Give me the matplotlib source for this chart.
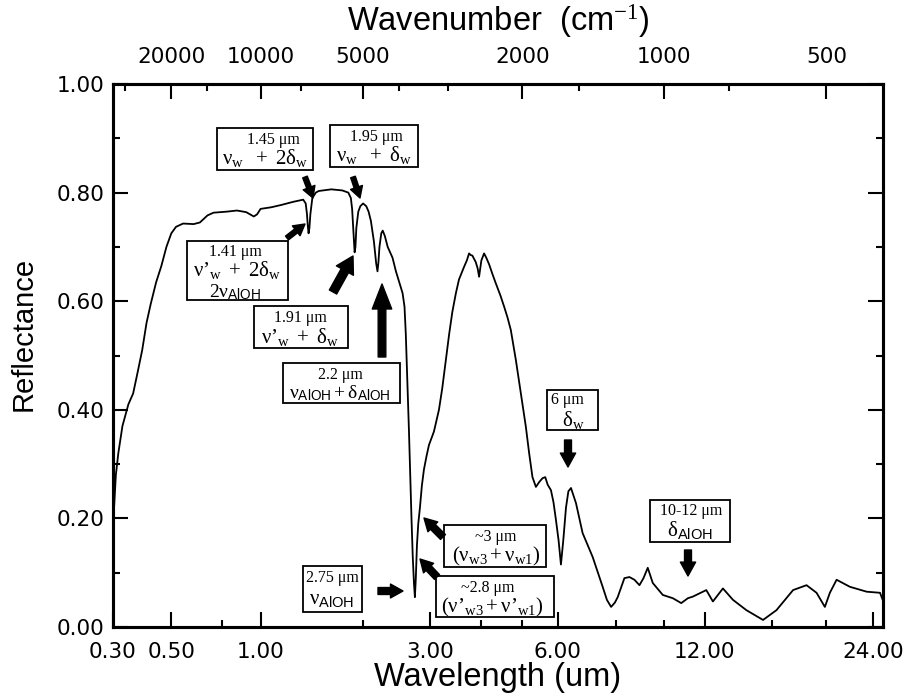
import numpy as np
import matplotlib
matplotlib.use('Agg')
import matplotlib.pyplot as plt
from matplotlib.patches import Rectangle

# ---------------- data ----------------
wavelength = [0.300, 0.303, 0.308, 0.315, 0.327, 0.345, 0.360, 0.375, 0.390, 0.405,
              0.420, 0.440, 0.460, 0.480, 0.500, 0.520, 0.551, 0.600, 0.631, 0.670,
              0.702, 0.780, 0.840, 0.900, 0.952, 0.975, 1.000, 1.080, 1.155, 1.260,
              1.350, 1.373, 1.385, 1.392, 1.400, 1.408, 1.417, 1.436, 1.470, 1.500,
              1.630, 1.750, 1.820, 1.850, 1.865, 1.880, 1.895, 1.905, 1.916, 1.940,
              1.965, 2.000, 2.040, 2.070, 2.100, 2.140, 2.170, 2.188, 2.200, 2.215,
              2.240, 2.260, 2.290, 2.330, 2.400, 2.450, 2.500, 2.550, 2.580, 2.600,
              2.620, 2.650, 2.670, 2.690, 2.710, 2.730, 2.745, 2.760, 2.778, 2.800,
              2.828, 2.860, 2.895, 2.940, 2.981, 3.069, 3.159, 3.220, 3.284, 3.350,
              3.410, 3.480, 3.541, 3.642, 3.700, 3.746, 3.780, 3.816, 3.888, 3.930,
              3.960, 3.985, 4.010, 4.070, 4.120, 4.183, 4.260, 4.338, 4.450, 4.537,
              4.620, 4.702, 4.829, 4.958, 5.090, 5.179, 5.269, 5.364, 5.457, 5.550,
              5.628, 5.700, 5.795, 5.870, 5.945, 6.024, 6.097, 6.170, 6.254, 6.330,
              6.413, 6.575, 6.794, 7.138, 7.495, 7.650, 7.806, 7.950, 8.057, 8.319,
              8.519, 8.722, 8.930, 9.100, 9.282, 9.501, 9.949, 10.414, 10.818, 11.144,
              11.397, 11.571, 12.095, 12.451, 13.007, 13.584, 14.387, 15.435, 16.324, 17.481,
              18.464, 19.225, 19.875, 20.275, 20.822, 21.943, 23.417, 24.648, 24.900]
reflectance = [0.170, 0.220, 0.280, 0.320, 0.370, 0.410, 0.430, 0.470, 0.510, 0.560,
               0.595, 0.635, 0.665, 0.700, 0.725, 0.737, 0.743, 0.742, 0.745, 0.758,
               0.763, 0.765, 0.767, 0.764, 0.756, 0.760, 0.770, 0.773, 0.777, 0.783,
               0.787, 0.780, 0.760, 0.740, 0.725, 0.735, 0.760, 0.790, 0.800, 0.803,
               0.806, 0.804, 0.800, 0.790, 0.770, 0.730, 0.690, 0.700, 0.735, 0.765,
               0.775, 0.780, 0.775, 0.765, 0.748, 0.710, 0.670, 0.655, 0.670, 0.700,
               0.725, 0.730, 0.720, 0.700, 0.680, 0.655, 0.635, 0.615, 0.590, 0.540,
               0.470, 0.360, 0.280, 0.200, 0.130, 0.080, 0.055, 0.090, 0.150, 0.190,
               0.220, 0.260, 0.290, 0.315, 0.335, 0.360, 0.400, 0.440, 0.490, 0.540,
               0.580, 0.615, 0.640, 0.663, 0.675, 0.688, 0.685, 0.684, 0.672, 0.660,
               0.645, 0.660, 0.675, 0.688, 0.680, 0.668, 0.650, 0.633, 0.610, 0.590,
               0.570, 0.547, 0.492, 0.430, 0.369, 0.320, 0.276, 0.258, 0.267, 0.274,
               0.276, 0.262, 0.252, 0.230, 0.197, 0.160, 0.115, 0.160, 0.220, 0.250,
               0.256, 0.228, 0.173, 0.129, 0.074, 0.050, 0.037, 0.045, 0.055, 0.090,
               0.092, 0.087, 0.077, 0.090, 0.109, 0.081, 0.059, 0.053, 0.044, 0.053,
               0.056, 0.059, 0.068, 0.047, 0.071, 0.050, 0.031, 0.013, 0.031, 0.068,
               0.077, 0.063, 0.037, 0.063, 0.087, 0.074, 0.065, 0.063, 0.050]

x_major = [0.3, 0.5, 1.0, 3.0, 6.0, 12.0, 24.0]
x_major_labels = ['0.30', '0.50', '1.00', '3.00', '6.00', '12.00', '24.00']
x_minor = [0.75, 2.0, 4.0, 5.0, 8.0, 10.0, 16.0, 20.0]
wn_major = [20000, 10000, 5000, 2000, 1000, 500]
wn_minor = [30000, 15000, 7500, 4000, 3000, 1500, 750]
y_major = [0.0, 0.2, 0.4, 0.6, 0.8, 1.0]
y_minor = [0.1, 0.3, 0.5, 0.7, 0.9]

# ---------------- style ----------------
plt.rcParams['mathtext.fontset'] = 'custom'
plt.rcParams['mathtext.rm'] = 'Liberation Serif'
plt.rcParams['mathtext.it'] = 'Liberation Serif:italic'
plt.rcParams['mathtext.sf'] = 'Liberation Sans'
TICKF = ['DejaVu Sans']
SANS = ['Liberation Sans', 'DejaVu Sans']
SERIF = ['Liberation Serif', 'DejaVu Serif']

fig = plt.figure(figsize=(9.08, 6.99), dpi=100)
W, H = 908.0, 699.0
L, R, T, B = 113.0, 883.0, 84.0, 627.0
ax = fig.add_axes([L / W, (H - B) / H, (R - L) / W, (B - T) / H])

fwd = lambda x: np.power(np.clip(x, 1e-9, None), 0.2)
inv = lambda y: np.power(np.clip(y, 0, None), 5.0)
ax.set_xscale('function', functions=(fwd, inv))
ax.plot(wavelength, reflectance, color='black', lw=1.3, zorder=2)
ax.set_xlim(0.3, 24.93)
ax.set_ylim(0, 1)

ax.set_xticks(x_major)
ax.set_xticklabels(x_major_labels)
ax.set_xticks(x_minor, minor=True)
ax.set_xticklabels([], minor=True)
ax.set_yticks(y_major)
ax.set_yticklabels(['%.2f' % v for v in y_major])
ax.set_yticks(y_minor, minor=True)

for sp in ax.spines.values():
    sp.set_linewidth(2.2)

MAJ, MIN, TW = 10.8, 5.2, 1.5
ax.tick_params(axis='both', which='both', direction='in', width=TW, colors='black')
ax.tick_params(axis='x', which='major', length=MAJ, pad=10.5, top=False, labelsize=15.5)
ax.tick_params(axis='x', which='minor', length=MIN, top=False)
ax.tick_params(axis='y', which='major', length=MAJ, pad=6, left=True, right=True, labelsize=15.5)
ax.tick_params(axis='y', which='minor', length=MIN, left=True, right=True)
for lab in ax.get_xticklabels() + ax.get_yticklabels():
    lab.set_family(TICKF)

ax2 = ax.twiny()
ax2.set_xscale('function', functions=(fwd, inv))
ax2.set_xlim(ax.get_xlim())
ax2.set_xticks([1e4 / w for w in wn_major])
ax2.set_xticklabels([str(w) for w in wn_major])
ax2.set_xticks([1e4 / w for w in wn_minor], minor=True)
ax2.set_xticklabels([], minor=True)
ax2.tick_params(axis='x', which='both', direction='in', width=TW, bottom=False)
ax2.tick_params(axis='x', which='major', length=MAJ, pad=12, labelsize=15.5)
ax2.tick_params(axis='x', which='minor', length=MIN)
for lab in ax2.get_xticklabels():
    lab.set_family(TICKF)
for sp in ax2.spines.values():
    sp.set_linewidth(2.2)

ax.set_xlabel('Wavelength (um)', family=SANS, fontsize=23.5, labelpad=0)
ax2.set_xlabel('Wavenumber  (cm$^{-1}$)', family=SANS, fontsize=23.5, labelpad=12)
ax.set_ylabel('Reflectance', family=SANS, fontsize=21)
ax.yaxis.set_label_coords(-0.098, 0.54)

# ---------------- annotations (positions in axes fraction from reference pixels) ----------------
def fx(x):
    return (x - L) / (R - L)

def fy(y):
    return (B - y) / (B - T)

def box(x0, y0, x1, y1):
    ax.add_patch(Rectangle((fx(x0), fy(y1)), fx(x1) - fx(x0), fy(y0) - fy(y1),
                           transform=ax.transAxes, facecolor='white', edgecolor='black',
                           lw=1.3, zorder=4, clip_on=False))

def line(x, y, s, size, ha='center'):
    ax.text(fx(x), fy(y), s, transform=ax.transAxes, ha=ha, va='baseline',
            fontsize=size, family=SERIF, zorder=5)

def arrow(x0, y0, x1, y1, hl=8, hw=9, tw=3.5):
    ax.annotate('', xy=(fx(x1), fy(y1)), xytext=(fx(x0), fy(y0)),
                xycoords='axes fraction', textcoords='axes fraction',
                arrowprops=dict(arrowstyle='simple,head_length=%g,head_width=%g,tail_width=%g' % (hl, hw, tw),
                                color='black', shrinkA=0, shrinkB=0, mutation_scale=1),
                zorder=5)

S1, S2 = 11.5, 15
nu = r'\mathrm{\nu}'
de = r'\mathrm{\delta}'
pr = '\u2019'
mu = '\u03bcm'
alo = r'_{\mathsf{AlOH}}'

box(217, 128, 313, 170)
line(273, 144, '1.45 ' + mu, S1)
line(265, 164, r'$%s_\mathrm{w}\ \ +\ 2%s_\mathrm{w}$' % (nu, de), S2)
arrow(305, 177, 313, 198)

box(330, 125, 418, 167)
line(376, 141, '1.95 ' + mu, S1)
line(374, 161, r'$%s_\mathrm{w}\ \ +\ %s_\mathrm{w}$' % (nu, de), S2)
arrow(353, 177, 360, 198)

box(187, 241, 288, 300)
line(235, 256, '1.41 ' + mu, S1)
line(237, 276, r'$%s%s_\mathrm{w}\ +\ 2%s_\mathrm{w}$' % (nu, pr, de), S2)
line(235, 297, r'$2%s%s$' % (nu, alo), 14)
arrow(287, 238, 305, 224)

box(254, 306, 348, 348)
line(300, 322, '1.91 ' + mu, S1)
line(300, 343, r'$%s%s_\mathrm{w}\ +\ %s_\mathrm{w}$' % (nu, pr, de), S2)
arrow(333, 292, 353, 256, hl=12, hw=14, tw=6)

box(283, 363, 400, 403)
line(340, 379, '2.2 ' + mu, S1)
line(340, 398, r'$%s%s + %s%s$' % (nu, alo, de, alo), 14)
arrow(382, 357, 382, 284, hl=18, hw=14, tw=5.5)

box(303, 566, 362, 612)
line(332, 582, '2.75 ' + mu, S1)
line(332, 604, r'$%s%s$' % (nu, alo), S2)
arrow(378, 591, 403, 591, hl=9, hw=10, tw=5)

box(444, 525, 546, 567)
line(496, 541, '~3 ' + mu, S1)
line(496, 561, r'$(%s_\mathrm{w3} + %s_\mathrm{w1})$' % (nu, nu), S2)
arrow(443, 537, 424, 518, hl=9, hw=10, tw=5)

box(436, 576, 554, 617)
line(488, 592, '~2.8 ' + mu, S1)
line(492, 612, r'$(%s%s_\mathrm{w3} + %s%s_\mathrm{w1})$' % (nu, pr, nu, pr), S2)
arrow(437, 577, 420, 559, hl=9, hw=10, tw=5)

box(547, 390, 598, 430)
line(551, 404, '6 ' + mu, S1, ha='left')
line(573, 426, r'$%s_\mathrm{w}$' % de, S2)
arrow(568, 440, 568, 467, hl=10, hw=11, tw=5)

box(650, 500, 730, 542)
line(691, 515, '10-12 ' + mu, S1)
line(690, 536, r'$%s%s$' % (de, alo), S2)
arrow(688, 550, 688, 576, hl=10, hw=11, tw=5)

fig.savefig('out.png', dpi=100)
